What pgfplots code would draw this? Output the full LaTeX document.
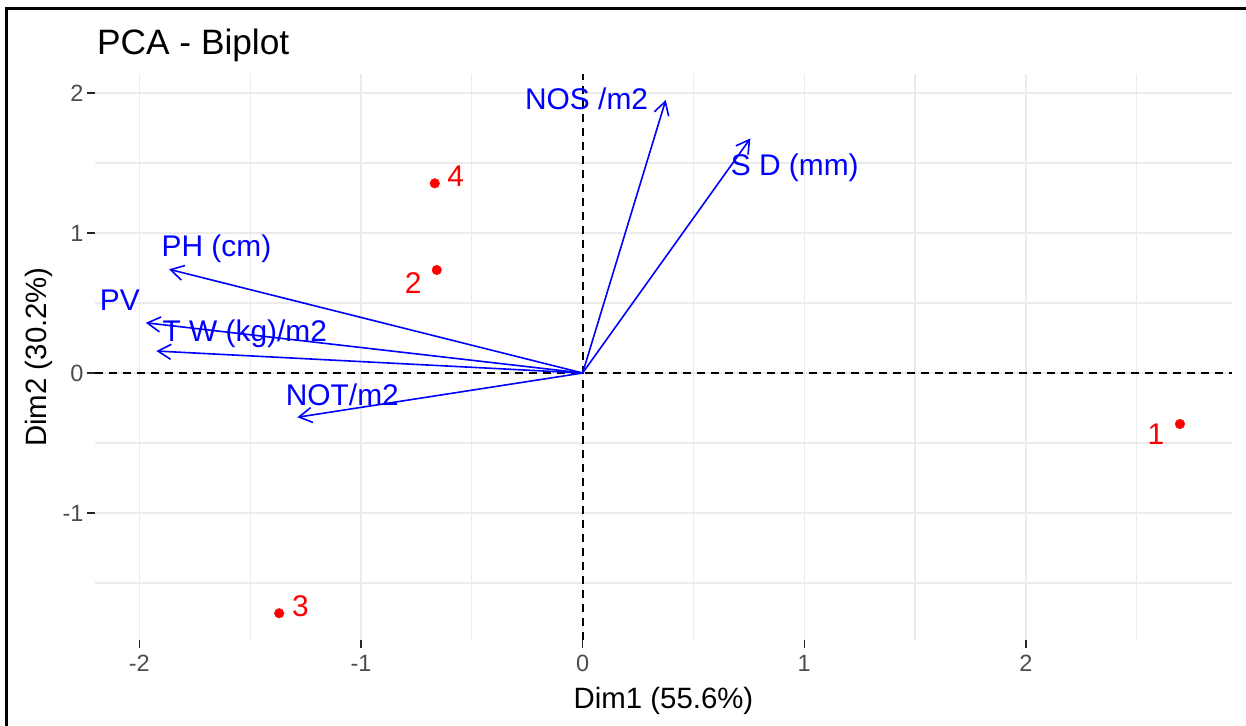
\documentclass[border=0pt]{standalone}
\usepackage{pgfplots}
\pgfplotsset{compat=1.18}
\usepackage{fontspec}
\setmainfont{Liberation Sans}
\usetikzlibrary{arrows.meta}
\definecolor{gridc}{RGB}{235,235,235}
\definecolor{tickc}{RGB}{77,77,77}
\definecolor{varblue}{RGB}{0,0,255}
\definecolor{indred}{RGB}{255,0,0}
\begin{document}
\begin{tikzpicture}[x=1bp,y=1bp]
\useasboundingbox (0,0) rectangle (1246,726);
\fill[white] (0,0) rectangle (1246,726);
\draw[line width=2.5bp] (6.5,0) -- (6.5,717.5) -- (1246,717.5);
\begin{axis}[
  at={(95bp,86bp)}, anchor=south west,
  width=1137bp, height=566bp, scale only axis,
  xmin=-2.2, xmax=2.93, ymin=-1.907, ymax=2.136,
  axis line style={draw=none},
  xtick={-2,-1,0,1,2}, ytick={-1,0,1,2},
  minor xtick={-1.5,-0.5,0.5,1.5,2.5},
  minor ytick={-1.5,-0.5,0.5,1.5},
  grid=both,
  major grid style={gridc, line width=1.5bp},
  minor grid style={gridc, line width=1.2bp},
  tick align=outside,
  major tick length=8bp,
  minor tick length=0bp,
  tick style={black!85, line width=1.2bp},
  xtick pos=lower, ytick pos=left,
  /pgf/number format/assume math mode=true,
  ticklabel style={font=\fontsize{23.6}{28}\selectfont, text=tickc},
  xticklabel style={yshift=-4bp},
  clip=false,
]
% reference lines
\addplot[black, line width=2bp, dash pattern=on 8bp off 6bp] coordinates {(-2.2,0) (2.93,0)};
\addplot[black, line width=2bp, dash pattern=on 8bp off 6bp] coordinates {(0,-1.907) (0,2.136)};
% variable arrows
\addplot[varblue, line width=1.6bp, -{Straight Barb[angle=60:15bp, line width=1.6bp]}] coordinates {(0,0) (0.375,1.950)};
\addplot[varblue, line width=1.6bp, -{Straight Barb[angle=60:15bp, line width=1.6bp]}] coordinates {(0,0) (0.757,1.676)};
\addplot[varblue, line width=1.6bp, -{Straight Barb[angle=60:15bp, line width=1.6bp]}] coordinates {(0,0) (-1.866,0.741)};
\addplot[varblue, line width=1.6bp, -{Straight Barb[angle=60:15bp, line width=1.6bp]}] coordinates {(0,0) (-1.971,0.359)};
\addplot[varblue, line width=1.6bp, -{Straight Barb[angle=60:15bp, line width=1.6bp]}] coordinates {(0,0) (-1.923,0.157)};
\addplot[varblue, line width=1.6bp, -{Straight Barb[angle=60:15bp, line width=1.6bp]}] coordinates {(0,0) (-1.287,-0.316)};
% individuals
\addplot[only marks, mark=*, mark size=4.8bp, mark options={fill=indred, draw=indred}] coordinates {
(2.695,-0.364) (-0.658,0.736) (-1.369,-1.716) (-0.667,1.355)};
% labels
\begin{scope}[every node/.style={anchor=base, font=\fontsize{30}{36}\selectfont, inner sep=0pt}]
\node[text=varblue] at (axis cs:0.018,1.879) {NOS /m2};
\node[text=varblue] at (axis cs:0.957,1.414) {S D (mm)};
\node[text=varblue] at (axis cs:-1.652,0.829) {PH (cm)};
\node[text=varblue] at (axis cs:-2.088,0.445) {PV};
\node[text=varblue] at (axis cs:-1.524,0.224) {T W (kg)/m2};
\node[text=varblue] at (axis cs:-1.084,-0.229) {NOT/m2};
\node[text=indred] at (axis cs:2.587,-0.514) {1};
\node[text=indred] at (axis cs:-0.765,0.571) {2};
\node[text=indred] at (axis cs:-1.273,-1.736) {3};
\node[text=indred] at (axis cs:-0.573,1.329) {4};
\end{scope}
\end{axis}
\node[anchor=base west, inner sep=0pt, font=\fontsize{35.4}{42}\selectfont] at (97,671) {PCA - Biplot};
\node[anchor=base, inner sep=0pt, font=\fontsize{29.5}{35}\selectfont] at (663.5,17) {Dim1 (55.6\%)};
\node[anchor=base, rotate=90, inner sep=0pt, font=\fontsize{29.5}{35}\selectfont] at (46,369) {Dim2 (30.2\%)};
\end{tikzpicture}
\end{document}
